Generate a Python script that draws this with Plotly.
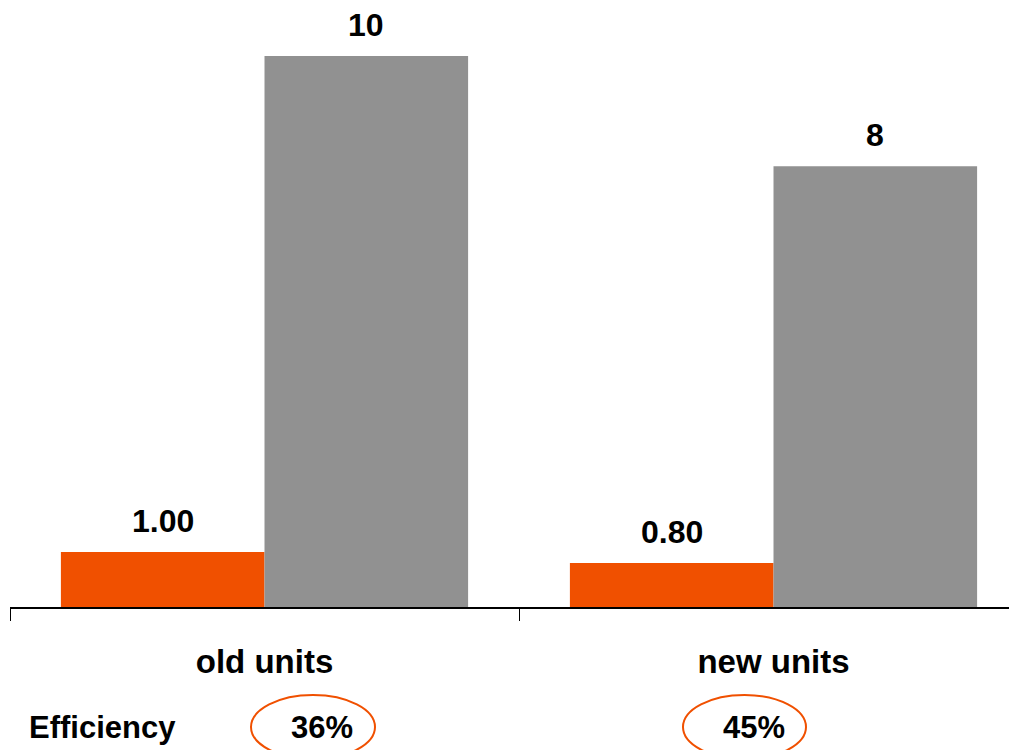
import plotly.graph_objects as go

categories = ["old units", "new units"]
orange_values = [1.00, 0.80]
gray_values = [10, 8]
orange_labels = ["1.00", "0.80"]
gray_labels = ["10", "8"]
efficiency_labels = ["36%", "45%"]

ORANGE = "#F05000"
GRAY = "#919191"
FONT = "Liberation Sans, Arial, Helvetica, sans-serif"

# page body has an 8px margin; the figure is sized to fill the rest
OFF = 8
W, H = 1017 - OFF, 750 - OFF
AXIS_Y = 607 - OFF          # screen y of the axis line, in figure pixels
L, R, T = 10 - OFF, 0, 0
B = H - AXIS_Y
plot_w = W - L - R
plot_h = H - T - B
cat_px = 509.0
x_span = plot_w / cat_px
px_per_unit = 55.1
y_top = plot_h / px_per_unit


def px_x(X):
    return (X - OFF - L) / plot_w


def px_y(Y):
    return (T + plot_h - (Y - OFF)) / plot_h


fig = go.Figure()
fig.add_trace(go.Bar(x=categories, y=orange_values, name="series A",
                     marker=dict(color=ORANGE, line=dict(width=0))))
fig.add_trace(go.Bar(x=categories, y=gray_values, name="series B",
                     marker=dict(color=GRAY, line=dict(width=0))))

annotations = []
for i, (v, t) in enumerate(zip(orange_values, orange_labels)):
    annotations.append(dict(x=i - 0.2, y=v, xref="x", yref="y",
                            text="<b>" + t + "</b>",
                            showarrow=False, yanchor="bottom", yshift=11,
                            font=dict(family=FONT, size=32, color="black")))
for i, (v, t) in enumerate(zip(gray_values, gray_labels)):
    annotations.append(dict(x=i + 0.2, y=v, xref="x", yref="y",
                            text="<b>" + t + "</b>",
                            showarrow=False, yanchor="bottom", yshift=11,
                            font=dict(family=FONT, size=32, color="black")))

annotations.append(dict(x=px_x(27), y=px_y(727), xref="paper", yref="paper",
                        text="<b>Efficiency</b>", showarrow=False,
                        xanchor="left", yanchor="middle",
                        font=dict(family=FONT, size=31, color="black")))

eff_text_x = [321.5, 753.5]
ellipse_x = [(251, 375), (683, 806)]
shapes = []
for t, tx, (x0, x1) in zip(efficiency_labels, eff_text_x, ellipse_x):
    annotations.append(dict(x=px_x(tx), y=px_y(727), xref="paper", yref="paper",
                            text="<b>" + t + "</b>", showarrow=False,
                            xanchor="center", yanchor="middle",
                            font=dict(family=FONT, size=31, color="black")))
    shapes.append(dict(type="circle", xref="paper", yref="paper",
                       x0=px_x(x0), x1=px_x(x1), y0=px_y(759), y1=px_y(695),
                       line=dict(color=ORANGE, width=2)))

fig.update_layout(
    width=W, height=H,
    margin=dict(l=L, r=R, t=T, b=B, pad=0),
    paper_bgcolor="white", plot_bgcolor="white",
    barmode="group", bargap=0.2, bargroupgap=0,
    showlegend=False,
    annotations=annotations, shapes=shapes,
    xaxis=dict(type="category", range=[-0.5, -0.5 + x_span],
               showline=True, linecolor="black", linewidth=2,
               ticks="outside", tickson="boundaries", ticklen=12,
               tickwidth=1, tickcolor="black",
               tickfont=dict(family=FONT, size=33, color="black"),
               tickvals=categories,
               ticktext=["<b>" + c + "</b>" for c in categories],
               ticklabelstandoff=24,
               showgrid=False, zeroline=False, fixedrange=True),
    yaxis=dict(range=[0, y_top], visible=False, showgrid=False,
               zeroline=False, fixedrange=True),
)

fig.write_html("out.html")
